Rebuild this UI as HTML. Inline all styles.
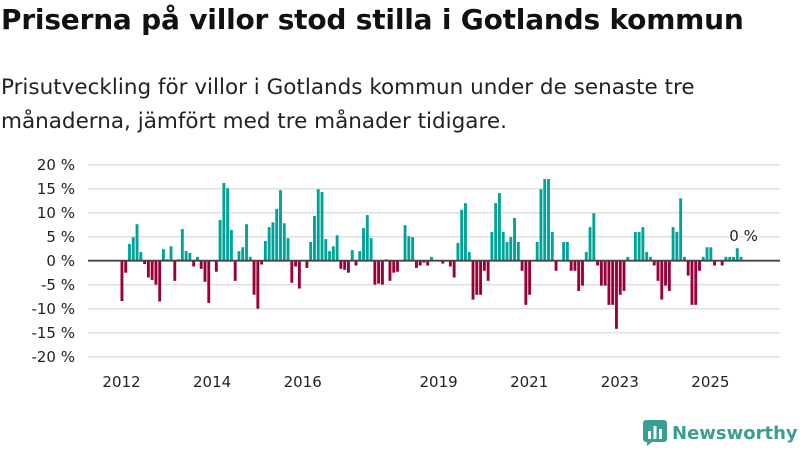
<!DOCTYPE html>
<html><head><meta charset="utf-8"><style>
body{margin:0;width:800px;height:450px;background:#fff;font-family:"DejaVu Sans","Liberation Sans",sans-serif;overflow:hidden;position:relative}
h1{position:absolute;left:1px;top:3px;margin:0;font-size:28px;font-weight:bold;color:#111;letter-spacing:-0.2px;white-space:nowrap}
p{position:absolute;left:1px;top:71px;margin:0;font-size:21.5px;line-height:34px;color:#222;width:760px}
svg{position:absolute;left:0;top:0}
</style></head><body>
<h1>Priserna på villor stod stilla i Gotlands kommun</h1>
<p>Prisutveckling för villor i Gotlands kommun under de senaste tre<br>månaderna, jämfört med tre månader tidigare.</p>
<svg id="c" width="800" height="450"></svg>
<script>
const values=[-8.4,-2.5,3.5,4.9,7.6,1.8,-0.7,-3.5,-4,-5,-8.5,2.4,0.3,3,-4.2,0.3,6.6,2,1.6,-1.2,0.8,-1.7,-4.4,-8.8,0,-2.3,8.5,16.2,15.1,6.4,-4.2,2,2.8,7.6,0.8,-7.1,-10,-0.8,4.1,7,8,
10.8,14.7,7.8,4.7,-4.6,-1.2,-5.8,0,-1.5,3.9,9.3,14.9,14.3,4.5,2,3,5.3,-1.7,-1.9,-2.5,2.2,-1,2,6.8,9.5,4.7,-5,-4.8,-5,0.3,-4.2,-2.5,-2.3,0,7.4,5.1,4.9,-1.5,-1,-0.4,-1,0.8,
0,0,-0.6,0,-1.2,-3.5,3.7,10.6,12,1.8,-8.1,-7.1,-7.1,-2.1,-4.2,6,12,14.1,6,3.9,4.9,8.9,3.9,-2.1,-9.2,-7.1,0,3.9,14.9,17,17,6,-2.1,0,3.9,3.9,-2.1,-2.1,-6.3,-5.2,1.8,7,9.9,-1,
-5.2,-5.2,-9.2,-9.2,-14.2,-7.1,-6.3,0.8,0,6,6,7,1.8,0.8,-1,-4.2,-8.1,-5.2,-6.3,7,6,13,0.8,-3.1,-9.2,-9.2,-2.1,0.8,2.8,2.8,-1,0,-1,0.8,0.8,0.8,2.6,0.8];
const yTicks=[20,15,10,5,0,-5,-10,-15,-20];
const xYears=[2012,2014,2016,2019,2021,2023,2025];
const startYear=2012;
const ns="http://www.w3.org/2000/svg",svg=document.getElementById('c');
const y=v=>260.7-v*4.8;
const step=3.775,x0=120.5;
const x=i=>x0+i*step;
const xYear=yr=>x0+(yr-startYear)*12*step+1;
const FF='DejaVu Sans,Liberation Sans,sans-serif';
function mk(t,a,txt){const e=document.createElementNS(ns,t);for(const k in a)e.setAttribute(k,a[k]);if(txt!=null)e.textContent=txt;svg.appendChild(e);return e;}
yTicks.forEach(t=>{
 const g=mk('line',{x1:88,x2:780,y1:y(t),y2:y(t),stroke:'#e0e0e0','stroke-width':1.5});
 
 
 const l=mk('text',{x:75,y:y(t)+5.5,'text-anchor':'end','font-size':15,fill:'#222','font-family':FF},t+' %');
 
 
});
values.forEach((v,i)=>{
 const r=mk('rect',{x:x(i),width:step-0.9,y:Math.min(y(v),y(0)),height:Math.abs(y(v)-y(0)),fill:v>=0?'#00a398':'#99003a'});
 
 
});
const ax=mk('line',{x1:88,x2:780,y1:y(0),y2:y(0),stroke:'#444','stroke-width':1.8});


xYears.forEach(yr=>{
 const t=mk('text',{x:xYear(yr),y:387,'text-anchor':'middle','font-size':15,fill:'#222','font-family':FF},yr);
 
 
});
const last=values.length-1;
const lab=mk('text',{x:x(last)+4,y:y(values[last])-16,'text-anchor':'middle','font-size':15,fill:'#222','font-family':FF,stroke:'#fff','stroke-width':3,'paint-order':'stroke'},Math.round(values[last]*0)+' %');


</script>
<div style="position:absolute;left:643px;top:420px;display:flex;align-items:center">
 <svg width="24" height="26" viewBox="0 0 24 26" style="position:static"><rect x="0" y="0" width="24" height="22" rx="3" fill="#3a9e93"/><polygon points="4,22 4,26 9,22" fill="#3a9e93"/><rect x="5" y="11" width="3" height="8" fill="#fff"/><rect x="10.5" y="6" width="3" height="13" fill="#fff"/><rect x="16" y="9" width="3" height="10" fill="#fff"/></svg>
 <span style="font-size:18px;font-weight:bold;color:#3a9e93;margin-left:5px">Newsworthy</span>
</div>
</body></html>
